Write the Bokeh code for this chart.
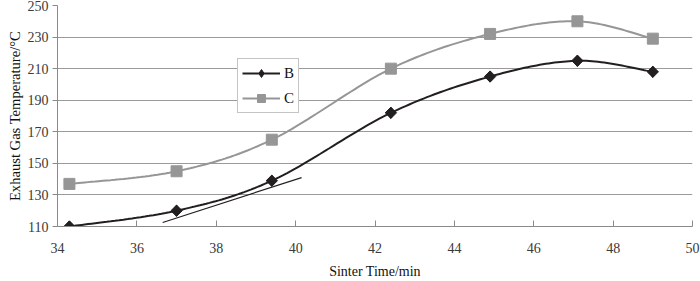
import numpy as np
from bokeh.plotting import figure
from bokeh.models import (Range1d, FixedTicker, Legend, LegendItem, ColumnDataSource)
from bokeh.embed import file_html
from bokeh.resources import INLINE

# ---- data ----
sinter_time = [34.3, 37.0, 39.4, 42.4, 44.9, 47.1, 49.0]
temp_B = [110, 120, 139, 182, 205, 215, 208]
temp_C = [137, 145, 165, 210, 232, 240, 229]
tangent_x = [36.65, 40.15]
tangent_y = [112.5, 141.0]
x_ticks = [34, 36, 38, 40, 42, 44, 46, 48, 50]
y_ticks = [110, 130, 150, 170, 190, 210, 230, 250]

FONT = "Liberation Serif"
COL_B = "#231f20"
COL_C = "#969696"


def smooth_path(xs, ys, steps=30):
    """Catmull-Rom / Bezier smoothing through the data points (Excel-like)."""
    x = np.asarray(xs, float)
    y = np.asarray(ys, float)
    n = len(x)
    px = np.concatenate([[x[0]], x, [x[-1]]])
    py = np.concatenate([[y[0]], y, [y[-1]]])
    t = np.linspace(0, 1, steps)
    outx, outy = [], []
    for i in range(n - 1):
        p1 = np.array([px[i + 1], py[i + 1]])
        p2 = np.array([px[i + 2], py[i + 2]])
        p0 = np.array([px[i], py[i]])
        p3 = np.array([px[i + 3], py[i + 3]])
        c0 = p1 + (p2 - p0) / 6.0
        c1 = p2 - (p3 - p1) / 6.0
        tt = t if i == 0 else t[1:]
        b = ((1 - tt) ** 3)[:, None] * p1 + (3 * (1 - tt) ** 2 * tt)[:, None] * c0 \
            + (3 * (1 - tt) * tt ** 2)[:, None] * c1 + (tt ** 3)[:, None] * p2
        outx.extend(b[:, 0]); outy.extend(b[:, 1])
    return outx, outy


p = figure(width=700, height=281, output_backend="svg", toolbar_location=None,
           x_range=Range1d(34, 50), y_range=Range1d(110, 250),
           min_border_left=57, min_border_right=8, min_border_top=5,
           min_border_bottom=55)
p.outline_line_color = None
p.background_fill_color = "white"
p.border_fill_color = "white"

# grid
p.xgrid.grid_line_color = None
p.ygrid.ticker = FixedTicker(ticks=[130, 150, 170, 190, 210, 230])
p.ygrid.grid_line_color = "#9a9a9a"
p.ygrid.grid_line_width = 1

# axes
for ax in (p.xaxis[0], p.yaxis[0]):
    ax.axis_line_color = "#8a8a8a"
    ax.major_tick_line_color = "#8a8a8a"
    ax.minor_tick_line_color = None
    ax.major_label_text_font = FONT
    ax.major_label_text_font_size = "14px"
    ax.major_label_text_color = "#3a3a3a"
    ax.axis_label_text_font = FONT
    ax.axis_label_text_font_size = "14px"
    ax.axis_label_text_font_style = "normal"
    ax.axis_label_text_color = "#111111"

p.xaxis.ticker = FixedTicker(ticks=x_ticks)
p.xaxis.major_tick_in = 6
p.xaxis.major_tick_out = 0
p.xaxis.major_label_standoff = 16
p.xaxis.axis_label = "Sinter Time/min"
p.xaxis.axis_label_standoff = 8

p.yaxis.ticker = FixedTicker(ticks=y_ticks)
p.yaxis.major_tick_in = 0
p.yaxis.major_tick_out = 5
p.yaxis.major_label_standoff = 4
p.yaxis.axis_label = "Exhaust Gas Temperature/°C"
p.yaxis.axis_label_text_font_size = "14.6px"
p.yaxis.axis_label_standoff = 2

# tangent line
p.line(tangent_x, tangent_y, line_color=COL_B, line_width=1.2)

# smoothed curves
cx, cy = smooth_path(sinter_time, temp_C)
lc = p.line(cx, cy, line_color=COL_C, line_width=2)
bx, by = smooth_path(sinter_time, temp_B)
lb = p.line(bx, by, line_color=COL_B, line_width=2)

# markers
sq = p.scatter(sinter_time, temp_C, marker="square", size=11,
               fill_color=COL_C, line_color=COL_C)
# diamond glyph (used for the legend swatch), covered by the rotated squares
dleg = p.scatter(sinter_time, temp_B, marker="diamond", size=11,
                 fill_color=COL_B, line_color=COL_B)
src_b = ColumnDataSource(dict(x=sinter_time, y=temp_B,
                              a=[np.pi / 4] * len(sinter_time)))
dm = p.scatter("x", "y", source=src_b, marker="square", size=8, angle="a",
               fill_color=COL_B, line_color=COL_B)

legend = Legend(items=[LegendItem(label="B", renderers=[lb, dleg], index=0),
                       LegendItem(label="C", renderers=[lc, sq], index=0)],
                location=(180, 113))
legend.label_text_font = FONT
legend.label_text_font_size = "15px"
legend.label_text_color = "#111111"
legend.glyph_width = 38
legend.glyph_height = 20
legend.label_height = 20
legend.label_width = 8
legend.label_standoff = 4
legend.spacing = 5
legend.padding = 4
legend.margin = 0
legend.border_line_color = "#8a8a8a"
legend.border_line_width = 1
legend.background_fill_color = "white"
legend.background_fill_alpha = 1
p.add_layout(legend, "center")

open("out.html", "w").write(file_html(p, INLINE))
